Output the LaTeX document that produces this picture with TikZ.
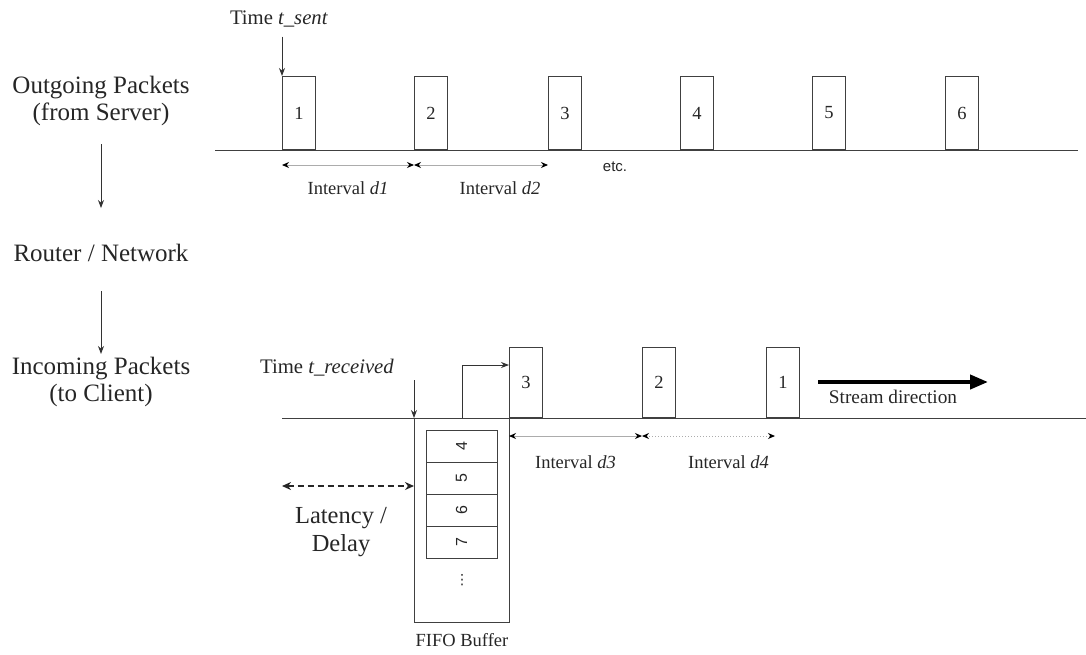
\documentclass[tikz,border=0pt]{standalone}
\usepackage{fontspec}
\usepackage{graphicx}
\setmainfont{Liberation Serif}
\newfontfamily\cellfont{Liberation Sans}
\newfontfamily\symfont{DejaVu Sans}
\usetikzlibrary{arrows.meta,positioning,calc}

\begin{document}
\begin{tikzpicture}[x=1pt, y=-1pt,
    font=\fontsize{18.5}{21}\selectfont, text=black!85,
    big/.style={align=center, inner sep=0pt, font=\fontsize{25}{27}\selectfont},
    timelbl/.style={font=\fontsize{20.7}{23}\selectfont},
    pkt/.style={draw=black!75, line width=1pt, minimum width=33pt,
      minimum height=73pt, inner sep=0pt, anchor=south west},
    rpkt/.style={pkt, minimum height=70pt},
    line/.style={draw=black!75, line width=1pt},
    flow/.style={-{Stealth[length=8pt,width=6pt]}, line width=0.8pt, draw=black!80},
    interval/.style={{Stealth[black,length=7pt,width=6pt]}-{Stealth[black,length=7pt,width=6pt]},
      draw=gray!65, line width=1pt},
    latency/.style={{Stealth[length=9pt,width=8pt]}-{Stealth[length=9pt,width=8pt]},
      line width=1.6pt, draw=black!85, dash pattern=on 6pt off 4pt},
    stream/.style={-{Triangle[length=18pt,width=14pt]}, line width=4pt, draw=black},
    cell/.style={draw=black!75, line width=1pt, minimum width=71pt, minimum height=32pt,
      inner sep=0pt, font=\cellfont\fontsize{16}{18}\selectfont}
  ]
    \useasboundingbox (0,0) rectangle (1086,654);
    % left column
    \node[big] (out) at (101,101) {Outgoing Packets\\(from Server)};
    \node[big] (net) at (101,253) {Router / Network};
    \node[big] (inc) at (101,382) {Incoming Packets\\(to Client)};
    \draw[flow, shorten <=18pt, shorten >=36pt] (out) -- (net);
    \draw[flow, shorten <=29pt, shorten >=3pt] (net) -- (inc);

    % outgoing stream
    \coordinate (ts) at (215,150);
    \coordinate (te) at (1078,150);
    \draw[line] (ts) -- (te);
    \foreach \i/\x in {1/282,2/414,3/548,4/680,5/812,6/945}
      \node[pkt] (p\i) at (\x,150) {\i};
    \node[timelbl] (tsent) at (279,19) {Time \textit{t\_sent}};
    \draw[flow, shorten <=6pt] (tsent.south -| p1.north west) -- (p1.north west);
    \draw[interval] ([yshift=-15pt]p1.south west) -- ([yshift=-15pt]p2.south west)
      node[midway, yshift=-23pt] (d1) {Interval \textit{d1}};
    \draw[interval] ([yshift=-15pt]p2.south west) -- ([yshift=-15pt]p3.south west)
      node[midway, yshift=-23pt, xshift=19pt] (d2) {Interval \textit{d2}};
    \node[font=\cellfont\fontsize{15}{17}\selectfont] (etc) at (615,167) {etc.};

    % incoming stream
    \coordinate (rs) at (282,418);
    \coordinate (re) at (1086,418);
    \draw[line] (rs) -- (re);
    \node[draw=black!75, line width=1pt, minimum width=95pt, minimum height=204pt,
      inner sep=0pt, anchor=north west] (fifo) at (414,418) {};
    \foreach \i/\x in {3/509,2/642,1/766}
      \node[rpkt] (q\i) at (\x,418) {\i};
    \foreach \n [count=\k] in {4,5,6,7}
      \node[cell] (c\n) at (461.5,{414+32*\k}) {\rotatebox{90}{\n}};
    \node[font=\symfont\fontsize{14}{16}\selectfont] (dots) at (462,580) {⋮};
    \node[below=7pt of fifo] (fifolbl) {FIFO Buffer};
    \node[timelbl] (trecv) at (327,368) {Time \textit{t\_received}};
    \draw[flow] (trecv.south -| fifo.north west) -- (fifo.north west);
    \draw[flow] (fifo.north) |- ([yshift=-18pt]q3.north west);

    \coordinate (lat) at (282,486);
    \draw[latency] (lat) -- (lat -| fifo.west);
    \node[big, font=\fontsize{24.5}{28}\selectfont] (latlbl) at (341,532) {Latency /\\Delay};

    \draw[interval] ([yshift=-18pt]q3.south west) -- ([yshift=-18pt]q2.south west)
      node[midway, yshift=-26pt] (d3) {Interval \textit{d3}};
    \draw[interval, dotted] ([yshift=-18pt]q2.south west) -- ([xshift=9pt, yshift=-18pt]q1.south west)
      node[midway, yshift=-26pt, xshift=20pt] (d4) {Interval \textit{d4}};

    \coordinate (sd) at (818,382);
    \coordinate (sdend) at (988,382);
    \draw[stream] (sd) -- (sdend);
    \node[font=\fontsize{19.3}{21}\selectfont] (sdlbl) at (893,397) {Stream direction};
  \end{tikzpicture}
\end{document}
